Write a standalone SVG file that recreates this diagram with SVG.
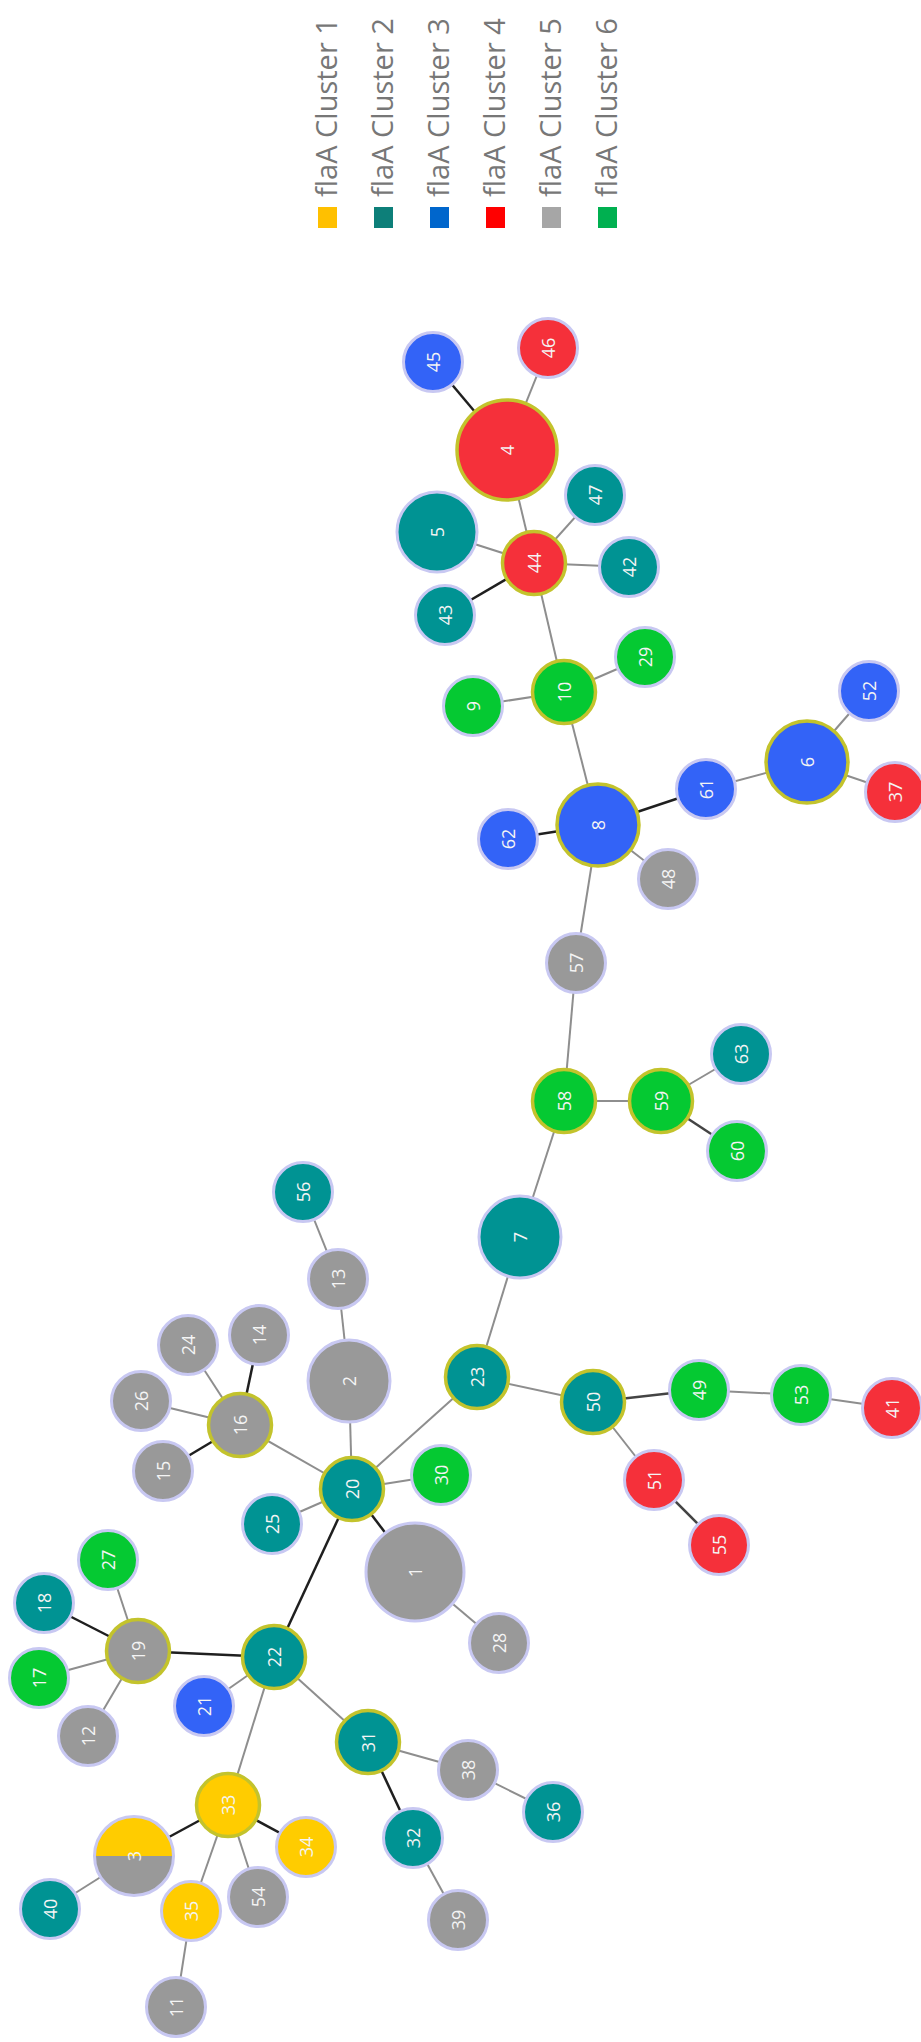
<svg xmlns="http://www.w3.org/2000/svg" width="921" height="2042" viewBox="0 0 921 2042">
<style>
.bg{fill:#ffffff}
.e{stroke:#8e8e8e;stroke-width:2;fill:none}
.k{stroke:#1f1f1f;stroke-width:2.5;fill:none}
.n circle{stroke:#c8c8f2;stroke-width:3}
.h circle{stroke:#c3c32c;stroke-width:3.5}
.c1 circle{fill:#ffcc00}
.c2 circle{fill:#009393}
.c3 circle{fill:#3363f7}
.c4 circle{fill:#f5303a}
.c5 circle{fill:#999999}
.c6 circle{fill:#05c932}
.n text{font-family:"Open Sans","Liberation Sans",sans-serif;font-size:18px;fill:#f4f4f4;text-anchor:middle}
.lg text{font-family:"Open Sans","Liberation Sans",sans-serif;font-size:29px;fill:#777777}
</style>
<rect class="bg" x="0" y="0" width="921" height="2042"/>
<g id="legend" class="lg">
<rect x="318" y="207" width="19" height="21" fill="#ffc000"/>
<text transform="translate(337,197) rotate(-90)">flaA Cluster 1</text>
<rect x="374" y="207" width="19" height="21" fill="#0d7f79"/>
<text transform="translate(393,197) rotate(-90)">flaA Cluster 2</text>
<rect x="430" y="207" width="19" height="21" fill="#0066cc"/>
<text transform="translate(449,197) rotate(-90)">flaA Cluster 3</text>
<rect x="486" y="207" width="19" height="21" fill="#ff0000"/>
<text transform="translate(505,197) rotate(-90)">flaA Cluster 4</text>
<rect x="542" y="207" width="19" height="21" fill="#a6a6a6"/>
<text transform="translate(561,197) rotate(-90)">flaA Cluster 5</text>
<rect x="598" y="207" width="19" height="21" fill="#00b050"/>
<text transform="translate(617,197) rotate(-90)">flaA Cluster 6</text>
</g>
<g id="connectors">
<line class="k" x1="507" y1="450" x2="433" y2="362"/>
<line class="e" x1="507" y1="450" x2="548" y2="348"/>
<line class="e" x1="507" y1="450" x2="534" y2="563"/>
<line class="e" x1="534" y1="563" x2="437" y2="532"/>
<line class="k" x1="534" y1="563" x2="445" y2="615"/>
<line class="e" x1="534" y1="563" x2="595" y2="495"/>
<line class="e" x1="534" y1="563" x2="629" y2="567"/>
<line class="e" x1="534" y1="563" x2="564" y2="692"/>
<line class="e" x1="564" y1="692" x2="473" y2="706"/>
<line class="e" x1="564" y1="692" x2="645" y2="657"/>
<line class="e" x1="564" y1="692" x2="598" y2="825"/>
<line class="k" x1="598" y1="825" x2="508" y2="839"/>
<line class="k" x1="598" y1="825" x2="706" y2="789"/>
<line class="e" x1="598" y1="825" x2="668" y2="879"/>
<line class="e" x1="598" y1="825" x2="576" y2="963"/>
<line class="e" x1="706" y1="789" x2="807" y2="762"/>
<line class="e" x1="807" y1="762" x2="869" y2="691"/>
<line class="e" x1="807" y1="762" x2="895" y2="792"/>
<line class="e" x1="576" y1="963" x2="564" y2="1101"/>
<line class="e" x1="564" y1="1101" x2="661" y2="1101"/>
<line class="e" x1="661" y1="1101" x2="741" y2="1054"/>
<line class="k" x1="661" y1="1101" x2="737" y2="1151" style="stroke:#444"/>
<line class="e" x1="564" y1="1101" x2="520" y2="1237"/>
<line class="e" x1="520" y1="1237" x2="477" y2="1377"/>
<line class="e" x1="477" y1="1377" x2="593" y2="1402"/>
<line class="e" x1="477" y1="1377" x2="352" y2="1489"/>
<line class="k" x1="593" y1="1402" x2="699" y2="1390" style="stroke:#444"/>
<line class="e" x1="699" y1="1390" x2="801" y2="1395"/>
<line class="e" x1="801" y1="1395" x2="892" y2="1408"/>
<line class="e" x1="593" y1="1402" x2="654" y2="1480"/>
<line class="k" x1="654" y1="1480" x2="719" y2="1545" style="stroke:#444"/>
<line class="e" x1="352" y1="1489" x2="349" y2="1381"/>
<line class="e" x1="349" y1="1381" x2="338" y2="1279"/>
<line class="e" x1="338" y1="1279" x2="303" y2="1192"/>
<line class="e" x1="352" y1="1489" x2="240" y2="1425"/>
<line class="k" x1="240" y1="1425" x2="259" y2="1335"/>
<line class="e" x1="240" y1="1425" x2="188" y2="1345"/>
<line class="e" x1="240" y1="1425" x2="141" y2="1401"/>
<line class="k" x1="240" y1="1425" x2="163" y2="1471"/>
<line class="e" x1="352" y1="1489" x2="441" y2="1475"/>
<line class="e" x1="352" y1="1489" x2="272" y2="1524"/>
<line class="k" x1="352" y1="1489" x2="415" y2="1572"/>
<line class="e" x1="415" y1="1572" x2="499" y2="1643"/>
<line class="k" x1="352" y1="1489" x2="274" y2="1657"/>
<line class="k" x1="274" y1="1657" x2="138" y2="1651"/>
<line class="k" x1="138" y1="1651" x2="44" y2="1603"/>
<line class="e" x1="138" y1="1651" x2="108" y2="1560"/>
<line class="e" x1="138" y1="1651" x2="39" y2="1678"/>
<line class="e" x1="138" y1="1651" x2="88" y2="1736"/>
<line class="e" x1="274" y1="1657" x2="204" y2="1706"/>
<line class="e" x1="274" y1="1657" x2="368" y2="1742"/>
<line class="e" x1="368" y1="1742" x2="468" y2="1770"/>
<line class="e" x1="468" y1="1770" x2="553" y2="1812"/>
<line class="k" x1="368" y1="1742" x2="413" y2="1838"/>
<line class="e" x1="413" y1="1838" x2="458" y2="1920"/>
<line class="e" x1="274" y1="1657" x2="228" y2="1805"/>
<line class="k" x1="228" y1="1805" x2="134" y2="1856"/>
<line class="k" x1="228" y1="1805" x2="306" y2="1847"/>
<line class="e" x1="228" y1="1805" x2="258" y2="1897"/>
<line class="e" x1="228" y1="1805" x2="191" y2="1911"/>
<line class="e" x1="191" y1="1911" x2="176" y2="2007"/>
<line class="e" x1="134" y1="1856" x2="50" y2="1909"/>
</g>
<g id="n1" class="n c5"><circle cx="415" cy="1572" r="49"/><text transform="translate(415,1572) rotate(-90)" y="6.5">1</text></g>
<g id="n2" class="n c5"><circle cx="349" cy="1381" r="41"/><text transform="translate(349,1381) rotate(-90)" y="6.5">2</text></g>
<g id="n3" class="n"><path d="M94.5,1856 A39.5,39.5 0 0 1 173.5,1856 Z" fill="#ffcc00"/><path d="M94.5,1856 A39.5,39.5 0 0 0 173.5,1856 Z" fill="#999999"/><circle cx="134" cy="1856" r="39.5" fill="none"/><text transform="translate(134,1856) rotate(-90)" y="6.5">3</text></g>
<g id="n4" class="n h c4"><circle cx="507" cy="450" r="50"/><text transform="translate(507,450) rotate(-90)" y="6.5">4</text></g>
<g id="n5" class="n c2"><circle cx="437" cy="532" r="40"/><text transform="translate(437,532) rotate(-90)" y="6.5">5</text></g>
<g id="n6" class="n h c3"><circle cx="807" cy="762" r="41"/><text transform="translate(807,762) rotate(-90)" y="6.5">6</text></g>
<g id="n7" class="n c2"><circle cx="520" cy="1237" r="41"/><text transform="translate(520,1237) rotate(-90)" y="6.5">7</text></g>
<g id="n8" class="n h c3"><circle cx="598" cy="825" r="41"/><text transform="translate(598,825) rotate(-90)" y="6.5">8</text></g>
<g id="n9" class="n c6"><circle cx="473" cy="706" r="29.5"/><text transform="translate(473,706) rotate(-90)" y="6.5">9</text></g>
<g id="n10" class="n h c6"><circle cx="564" cy="692" r="31.5"/><text transform="translate(564,692) rotate(-90)" y="6.5">10</text></g>
<g id="n11" class="n c5"><circle cx="176" cy="2007" r="29.5"/><text transform="translate(176,2007) rotate(-90)" y="6.5">11</text></g>
<g id="n12" class="n c5"><circle cx="88" cy="1736" r="29.5"/><text transform="translate(88,1736) rotate(-90)" y="6.5">12</text></g>
<g id="n13" class="n c5"><circle cx="338" cy="1279" r="29.5"/><text transform="translate(338,1279) rotate(-90)" y="6.5">13</text></g>
<g id="n14" class="n c5"><circle cx="259" cy="1335" r="29.5"/><text transform="translate(259,1335) rotate(-90)" y="6.5">14</text></g>
<g id="n15" class="n c5"><circle cx="163" cy="1471" r="29.5"/><text transform="translate(163,1471) rotate(-90)" y="6.5">15</text></g>
<g id="n16" class="n h c5"><circle cx="240" cy="1425" r="31.5"/><text transform="translate(240,1425) rotate(-90)" y="6.5">16</text></g>
<g id="n17" class="n c6"><circle cx="39" cy="1678" r="29.5"/><text transform="translate(39,1678) rotate(-90)" y="6.5">17</text></g>
<g id="n18" class="n c2"><circle cx="44" cy="1603" r="29.5"/><text transform="translate(44,1603) rotate(-90)" y="6.5">18</text></g>
<g id="n19" class="n h c5"><circle cx="138" cy="1651" r="31.5"/><text transform="translate(138,1651) rotate(-90)" y="6.5">19</text></g>
<g id="n20" class="n h c2"><circle cx="352" cy="1489" r="31.5"/><text transform="translate(352,1489) rotate(-90)" y="6.5">20</text></g>
<g id="n21" class="n c3"><circle cx="204" cy="1706" r="29.5"/><text transform="translate(204,1706) rotate(-90)" y="6.5">21</text></g>
<g id="n22" class="n h c2"><circle cx="274" cy="1657" r="31.5"/><text transform="translate(274,1657) rotate(-90)" y="6.5">22</text></g>
<g id="n23" class="n h c2"><circle cx="477" cy="1377" r="31.5"/><text transform="translate(477,1377) rotate(-90)" y="6.5">23</text></g>
<g id="n24" class="n c5"><circle cx="188" cy="1345" r="29.5"/><text transform="translate(188,1345) rotate(-90)" y="6.5">24</text></g>
<g id="n25" class="n c2"><circle cx="272" cy="1524" r="29.5"/><text transform="translate(272,1524) rotate(-90)" y="6.5">25</text></g>
<g id="n26" class="n c5"><circle cx="141" cy="1401" r="29.5"/><text transform="translate(141,1401) rotate(-90)" y="6.5">26</text></g>
<g id="n27" class="n c6"><circle cx="108" cy="1560" r="29.5"/><text transform="translate(108,1560) rotate(-90)" y="6.5">27</text></g>
<g id="n28" class="n c5"><circle cx="499" cy="1643" r="29.5"/><text transform="translate(499,1643) rotate(-90)" y="6.5">28</text></g>
<g id="n29" class="n c6"><circle cx="645" cy="657" r="29.5"/><text transform="translate(645,657) rotate(-90)" y="6.5">29</text></g>
<g id="n30" class="n c6"><circle cx="441" cy="1475" r="29.5"/><text transform="translate(441,1475) rotate(-90)" y="6.5">30</text></g>
<g id="n31" class="n h c2"><circle cx="368" cy="1742" r="31.5"/><text transform="translate(368,1742) rotate(-90)" y="6.5">31</text></g>
<g id="n32" class="n c2"><circle cx="413" cy="1838" r="29.5"/><text transform="translate(413,1838) rotate(-90)" y="6.5">32</text></g>
<g id="n33" class="n h c1"><circle cx="228" cy="1805" r="31.5"/><text transform="translate(228,1805) rotate(-90)" y="6.5">33</text></g>
<g id="n34" class="n c1"><circle cx="306" cy="1847" r="29.5"/><text transform="translate(306,1847) rotate(-90)" y="6.5">34</text></g>
<g id="n35" class="n c1"><circle cx="191" cy="1911" r="29.5"/><text transform="translate(191,1911) rotate(-90)" y="6.5">35</text></g>
<g id="n36" class="n c2"><circle cx="553" cy="1812" r="29.5"/><text transform="translate(553,1812) rotate(-90)" y="6.5">36</text></g>
<g id="n37" class="n c4"><circle cx="895" cy="792" r="29.5"/><text transform="translate(895,792) rotate(-90)" y="6.5">37</text></g>
<g id="n38" class="n c5"><circle cx="468" cy="1770" r="29.5"/><text transform="translate(468,1770) rotate(-90)" y="6.5">38</text></g>
<g id="n39" class="n c5"><circle cx="458" cy="1920" r="29.5"/><text transform="translate(458,1920) rotate(-90)" y="6.5">39</text></g>
<g id="n40" class="n c2"><circle cx="50" cy="1909" r="29.5"/><text transform="translate(50,1909) rotate(-90)" y="6.5">40</text></g>
<g id="n41" class="n c4"><circle cx="892" cy="1408" r="29.5"/><text transform="translate(892,1408) rotate(-90)" y="6.5">41</text></g>
<g id="n42" class="n c2"><circle cx="629" cy="567" r="29.5"/><text transform="translate(629,567) rotate(-90)" y="6.5">42</text></g>
<g id="n43" class="n c2"><circle cx="445" cy="615" r="29.5"/><text transform="translate(445,615) rotate(-90)" y="6.5">43</text></g>
<g id="n44" class="n h c4"><circle cx="534" cy="563" r="31.5"/><text transform="translate(534,563) rotate(-90)" y="6.5">44</text></g>
<g id="n45" class="n c3"><circle cx="433" cy="362" r="29.5"/><text transform="translate(433,362) rotate(-90)" y="6.5">45</text></g>
<g id="n46" class="n c4"><circle cx="548" cy="348" r="29.5"/><text transform="translate(548,348) rotate(-90)" y="6.5">46</text></g>
<g id="n47" class="n c2"><circle cx="595" cy="495" r="29.5"/><text transform="translate(595,495) rotate(-90)" y="6.5">47</text></g>
<g id="n48" class="n c5"><circle cx="668" cy="879" r="29.5"/><text transform="translate(668,879) rotate(-90)" y="6.5">48</text></g>
<g id="n49" class="n c6"><circle cx="699" cy="1390" r="29.5"/><text transform="translate(699,1390) rotate(-90)" y="6.5">49</text></g>
<g id="n50" class="n h c2"><circle cx="593" cy="1402" r="31.5"/><text transform="translate(593,1402) rotate(-90)" y="6.5">50</text></g>
<g id="n51" class="n c4"><circle cx="654" cy="1480" r="29.5"/><text transform="translate(654,1480) rotate(-90)" y="6.5">51</text></g>
<g id="n52" class="n c3"><circle cx="869" cy="691" r="29.5"/><text transform="translate(869,691) rotate(-90)" y="6.5">52</text></g>
<g id="n53" class="n c6"><circle cx="801" cy="1395" r="29.5"/><text transform="translate(801,1395) rotate(-90)" y="6.5">53</text></g>
<g id="n54" class="n c5"><circle cx="258" cy="1897" r="29.5"/><text transform="translate(258,1897) rotate(-90)" y="6.5">54</text></g>
<g id="n55" class="n c4"><circle cx="719" cy="1545" r="29.5"/><text transform="translate(719,1545) rotate(-90)" y="6.5">55</text></g>
<g id="n56" class="n c2"><circle cx="303" cy="1192" r="29.5"/><text transform="translate(303,1192) rotate(-90)" y="6.5">56</text></g>
<g id="n57" class="n c5"><circle cx="576" cy="963" r="29.5"/><text transform="translate(576,963) rotate(-90)" y="6.5">57</text></g>
<g id="n58" class="n h c6"><circle cx="564" cy="1101" r="31.5"/><text transform="translate(564,1101) rotate(-90)" y="6.5">58</text></g>
<g id="n59" class="n h c6"><circle cx="661" cy="1101" r="31.5"/><text transform="translate(661,1101) rotate(-90)" y="6.5">59</text></g>
<g id="n60" class="n c6"><circle cx="737" cy="1151" r="29.5"/><text transform="translate(737,1151) rotate(-90)" y="6.5">60</text></g>
<g id="n61" class="n c3"><circle cx="706" cy="789" r="29.5"/><text transform="translate(706,789) rotate(-90)" y="6.5">61</text></g>
<g id="n62" class="n c3"><circle cx="508" cy="839" r="29.5"/><text transform="translate(508,839) rotate(-90)" y="6.5">62</text></g>
<g id="n63" class="n c2"><circle cx="741" cy="1054" r="29.5"/><text transform="translate(741,1054) rotate(-90)" y="6.5">63</text></g>
</svg>
